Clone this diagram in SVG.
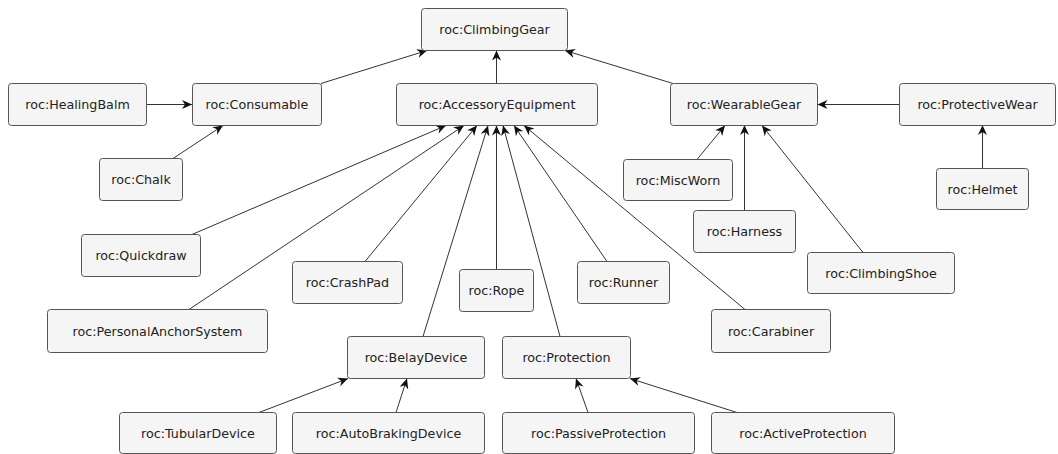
<svg xmlns="http://www.w3.org/2000/svg" width="1058" height="454" viewBox="0 0 1058 454">
<style>
.n rect{fill:#f5f5f5;stroke:#555;stroke-width:1}
.n text{font-family:"DejaVu Sans",sans-serif;font-size:12.7px;fill:#222;text-anchor:middle}
#edges line{stroke:#333;stroke-width:1;marker-end:url(#ah)}
</style>
<defs>
<marker id="ah" viewBox="-11 -5 12 10" refX="0" refY="0" markerWidth="12" markerHeight="10" markerUnits="userSpaceOnUse" orient="auto">
<path d="M0,0 L-10,-4.5 L-7,0 L-10,4.5 Z" fill="#111"/>
</marker>
</defs>
<rect width="1058" height="454" fill="#fff"/>
<g id="edges">
<line x1="321" y1="83.5" x2="427" y2="50.5"/>
<line x1="496.5" y1="83.5" x2="496.5" y2="50.5"/>
<line x1="673" y1="83.5" x2="565" y2="50.5"/>
<line x1="146.5" y1="104.5" x2="192" y2="104.5"/>
<line x1="173" y1="158.5" x2="223" y2="125.5"/>
<line x1="899" y1="104.5" x2="817.5" y2="104.5"/>
<line x1="982.5" y1="168.5" x2="982.5" y2="125"/>
<line x1="697" y1="159.5" x2="725" y2="125.5"/>
<line x1="744.5" y1="210.5" x2="744.5" y2="125"/>
<line x1="863" y1="252.5" x2="762" y2="125.5"/>
<line x1="192" y1="234.5" x2="446" y2="125.5"/>
<line x1="189" y1="309.5" x2="464" y2="125.5"/>
<line x1="365" y1="261.5" x2="477" y2="125.5"/>
<line x1="423" y1="336.5" x2="488" y2="125.5"/>
<line x1="496.5" y1="269.5" x2="496.5" y2="125.5"/>
<line x1="560" y1="336.5" x2="503" y2="125.5"/>
<line x1="607" y1="261.5" x2="514" y2="125.5"/>
<line x1="745" y1="309.5" x2="524" y2="125.5"/>
<line x1="259" y1="412.5" x2="348" y2="378.5"/>
<line x1="396" y1="412.5" x2="407" y2="378.5"/>
<line x1="588" y1="412.5" x2="576" y2="378.5"/>
<line x1="737" y1="412.5" x2="630" y2="378.5"/>
</g>
<g id="ClimbingGear" class="n"><rect x="421.5" y="8.5" width="146" height="42" rx="3"/><text x="494.5" y="34">roc:ClimbingGear</text></g>
<g id="HealingBalm" class="n"><rect x="8.5" y="83.5" width="138" height="42" rx="3"/><text x="77.5" y="109">roc:HealingBalm</text></g>
<g id="Consumable" class="n"><rect x="192.5" y="83.5" width="129" height="42" rx="3"/><text x="257" y="109">roc:Consumable</text></g>
<g id="AccessoryEquipment" class="n"><rect x="396.5" y="83.5" width="201" height="42" rx="3"/><text x="497" y="109">roc:AccessoryEquipment</text></g>
<g id="WearableGear" class="n"><rect x="670.5" y="83.5" width="147" height="42" rx="3"/><text x="744" y="109">roc:WearableGear</text></g>
<g id="ProtectiveWear" class="n"><rect x="899.5" y="83.5" width="156" height="42" rx="3"/><text x="977.5" y="109">roc:ProtectiveWear</text></g>
<g id="Chalk" class="n"><rect x="99.5" y="158.5" width="83" height="42" rx="3"/><text x="141" y="184">roc:Chalk</text></g>
<g id="MiscWorn" class="n"><rect x="623.5" y="159.5" width="109" height="41" rx="3"/><text x="678" y="184.5">roc:MiscWorn</text></g>
<g id="Helmet" class="n"><rect x="936.5" y="168.5" width="92" height="41" rx="3"/><text x="982.5" y="193.5">roc:Helmet</text></g>
<g id="Harness" class="n"><rect x="693.5" y="210.5" width="102" height="42" rx="3"/><text x="744.5" y="236">roc:Harness</text></g>
<g id="Quickdraw" class="n"><rect x="81.5" y="234.5" width="119" height="42" rx="3"/><text x="141" y="260">roc:Quickdraw</text></g>
<g id="ClimbingShoe" class="n"><rect x="807.5" y="252.5" width="147" height="41" rx="3"/><text x="881" y="277.5">roc:ClimbingShoe</text></g>
<g id="CrashPad" class="n"><rect x="292.5" y="261.5" width="110" height="42" rx="3"/><text x="347.5" y="287">roc:CrashPad</text></g>
<g id="Runner" class="n"><rect x="577.5" y="261.5" width="92" height="42" rx="3"/><text x="623.5" y="287">roc:Runner</text></g>
<g id="Rope" class="n"><rect x="459.5" y="269.5" width="74" height="42" rx="3"/><text x="496.5" y="295">roc:Rope</text></g>
<g id="PersonalAnchorSystem" class="n"><rect x="47.5" y="309.5" width="220" height="43" rx="3"/><text x="157.5" y="335.5">roc:PersonalAnchorSystem</text></g>
<g id="Carabiner" class="n"><rect x="711.5" y="309.5" width="119" height="43" rx="3"/><text x="771" y="335.5">roc:Carabiner</text></g>
<g id="BelayDevice" class="n"><rect x="347.5" y="336.5" width="137" height="42" rx="3"/><text x="416" y="362">roc:BelayDevice</text></g>
<g id="Protection" class="n"><rect x="502.5" y="336.5" width="128" height="42" rx="3"/><text x="566.5" y="362">roc:Protection</text></g>
<g id="TubularDevice" class="n"><rect x="119.5" y="412.5" width="157" height="41" rx="3"/><text x="198" y="437.5">roc:TubularDevice</text></g>
<g id="AutoBrakingDevice" class="n"><rect x="292.5" y="412.5" width="192" height="41" rx="3"/><text x="388.5" y="437.5">roc:AutoBrakingDevice</text></g>
<g id="PassiveProtection" class="n"><rect x="502.5" y="412.5" width="192" height="41" rx="3"/><text x="598.5" y="437.5">roc:PassiveProtection</text></g>
<g id="ActiveProtection" class="n"><rect x="711.5" y="412.5" width="183" height="41" rx="3"/><text x="803" y="437.5">roc:ActiveProtection</text></g>
</svg>
